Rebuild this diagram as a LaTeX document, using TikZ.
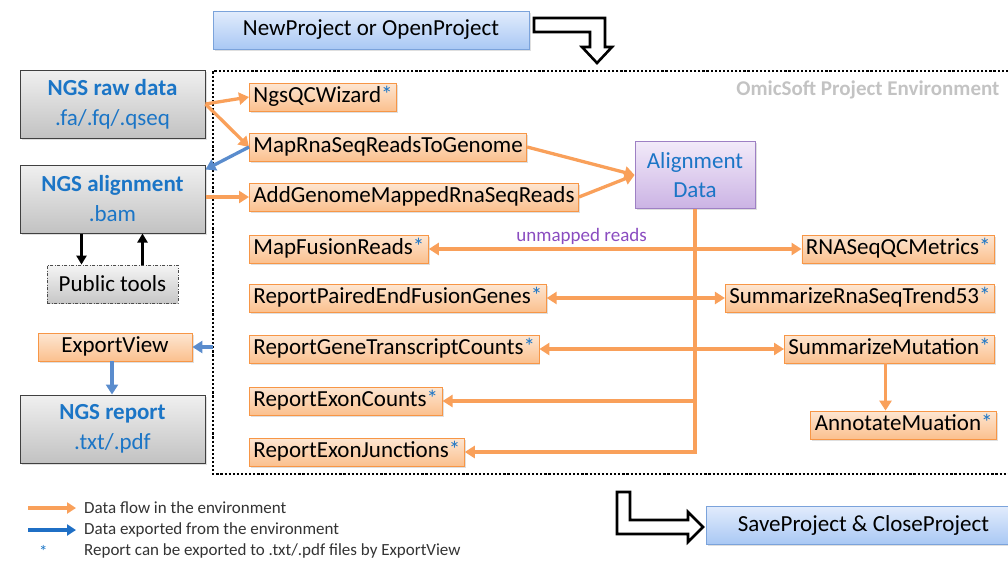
\documentclass[tikz,border=0pt]{standalone}
\usepackage{fontspec}
\setmainfont{Carlito}
\usepackage{xcolor}
\usetikzlibrary{arrows.meta, positioning, shadows}

\definecolor{flowor}{HTML}{F9A05A}
\definecolor{boxor}{HTML}{F79646}
\definecolor{orTop}{HTML}{FDE6D2}
\definecolor{orBot}{HTML}{FBC08E}
\definecolor{expblue}{HTML}{5A8CCD}
\definecolor{legblue}{HTML}{1F6FC5}
\definecolor{ngsblue}{HTML}{1B75C6}
\definecolor{envgray}{HTML}{C3C3C3}
\definecolor{unmapped}{HTML}{8A4CC0}
\definecolor{projTop}{HTML}{E2ECFC}
\definecolor{projBot}{HTML}{A9C8F4}
\definecolor{projLine}{HTML}{7BA3DB}
\definecolor{alnTop}{HTML}{F2EAF9}
\definecolor{alnBot}{HTML}{CBB3E4}
\definecolor{alnLine}{HTML}{9E80C4}

% blue star for reports that ExportView can write out
\newcommand{\rpt}{\textcolor{ngsblue}{*}}

\begin{document}
\begin{tikzpicture}[
  x=1pt, y=-1pt,
  font=\fontsize{23}{29}\selectfont,
  shade/.style={drop shadow={opacity=0.25, shadow xshift=1.5pt, shadow yshift=-1.5pt}},
  procbox/.style={shade, draw=boxor, line width=0.8pt, top color=orTop, bottom color=orBot,
    inner xsep=4pt, inner ysep=4pt, text height=15pt, text depth=5pt},
  databox/.style={shade, draw=black!75, line width=1pt, top color=black!6, bottom color=black!24,
    minimum width=185pt, minimum height=68pt, align=center, text=ngsblue},
  toolbox/.style={draw=black!70, line width=0.8pt, dash pattern=on 3pt off 1.5pt on 1pt off 1.5pt,
    top color=black!4, bottom color=black!22, minimum width=131pt, minimum height=38pt},
  projbox/.style={shade, draw=projLine, line width=0.8pt, top color=projTop, bottom color=projBot,
    minimum height=38pt},
  aligndata/.style={shade, draw=alnLine, line width=0.8pt, top color=alnTop, bottom color=alnBot,
    minimum width=120pt, minimum height=67pt, align=center, text=ngsblue},
  flow/.style={draw=flowor, line width=3.3pt, -{Triangle[length=10pt,width=12pt]}},
  flow2/.style={flow, {Triangle[length=10pt,width=12pt]}-{Triangle[length=10pt,width=12pt]}},
  export/.style={draw=expblue, line width=3.3pt, -{Triangle[length=10pt,width=12pt]}},
  updown/.style={draw=black, line width=2.7pt, -{Triangle[length=9pt,width=10pt]}},
  hollow/.style={draw=black, line width=2.6pt, fill=white, line join=miter},
  legend/.style={font=\fontsize{17}{19}\selectfont, text=black!80, anchor=west, inner sep=0pt}
]
\useasboundingbox (0,0) rectangle (1008,563);

% project environment frame (open on the right)
\draw[line width=2.6pt, dash pattern=on 2.2pt off 1.9pt] (1012,71) -- (213,71) -- (213,474) -- (1012,474);
\node[anchor=east, text=envgray, font=\fontsize{21}{24}\selectfont\bfseries] (envname) at (1003,90) {OmicSoft Project Environment};

% open / save
\node[projbox, minimum width=316pt] (newp) at (371,30) {NewProject or OpenProject};
\node[projbox, minimum width=314pt, anchor=west] (savep) at (706,525) {SaveProject \& CloseProject};
\draw[hollow] (534,18) -- (605,18) -- (605,47) -- (612,47) -- (597,63) -- (582,47) -- (590,47) -- (590,32) -- (534,32) -- cycle;
\draw[hollow] (617,492) -- (630,492) -- (630,520) -- (688,520) -- (688,512) -- (703,527) -- (688,542) -- (688,534) -- (617,534) -- cycle;

% data outside the environment
\node[databox] (raw) at (112.5,104) {\textbf{NGS raw data}\\[1pt].fa/.fq/.qseq};
\node[databox] (aln) at (112.5,199) {\textbf{NGS alignment}\\[1pt].bam};
\node[toolbox] (tools) at (112.5,284) {Public tools};
\node[procbox, minimum width=154pt] (exv) at (115,347) {ExportView};
\node[databox] (rep) at (112.5,429) {\textbf{NGS report}\\[1pt].txt/.pdf};

% left column of tools
\node[procbox, anchor=west] (qcw) at (249,97) {NgsQCWizard\rpt};
\node[procbox, anchor=west] (maprna) at (249,147) {MapRnaSeqReadsToGenome};
\node[procbox, anchor=west] (addgen) at (249,197) {AddGenomeMappedRnaSeqReads};
\node[procbox, anchor=west] (fusion) at (249,249) {MapFusionReads\rpt};
\node[procbox, anchor=west] (paired) at (249,298) {ReportPairedEndFusionGenes\rpt};
\node[procbox, anchor=west] (counts) at (249,349) {ReportGeneTranscriptCounts\rpt};
\node[procbox, anchor=west] (exc) at (249,401) {ReportExonCounts\rpt};
\node[procbox, anchor=west] (exj) at (249,452) {ReportExonJunctions\rpt};

\node[aligndata] (adata) at (695,175) {Alignment\\Data};

% right column
\node[procbox, anchor=east] (qcm) at (995,249) {RNASeqQCMetrics\rpt};
\node[procbox, anchor=east] (trend) at (995,298) {SummarizeRnaSeqTrend53\rpt};
\node[procbox, anchor=east] (mut) at (995,349) {SummarizeMutation\rpt};
\node[procbox, anchor=east] (annot) at (997,425) {AnnotateMuation\rpt};

% flows
\draw[flow] (raw.east) -- (qcw.west);
\draw[flow] (raw.east) -- (maprna.west);
\draw[export] (maprna.west) -- ([yshift=-5pt]aln.north east);
\draw[flow] (aln.east |- addgen.west) -- (addgen.west);
\draw[flow] (maprna.east) -- (adata.west);
\draw[flow] (addgen.east) -- (adata.west);
\draw[flow] (adata.south) |- (exj.east);
\draw[flow] (adata.south |- exc.east) -- (exc.east);
\draw[flow2] (fusion.east) -- node[pos=0.41, above=-1pt, text=unmapped, font=\fontsize{19}{21}\selectfont] (unm) {unmapped reads} (qcm.west);
\draw[flow2] (paired.east) -- (trend.west);
\draw[flow2] (counts.east) -- (mut.west);
\draw[flow] ([xshift=-4pt]mut.south) -- ([xshift=-4pt]mut.south |- annot.north);

% around the alignment file
\draw[updown] ([xshift=-31pt]aln.south) -- ([xshift=-31pt]aln.south |- tools.north);
\draw[updown] ([xshift=30pt]tools.north) -- ([xshift=30pt]tools.north |- aln.south);

% export
\coordinate (envleft) at (213,347);
\draw[export] (envleft) -- (exv.east);
\draw[export] ([xshift=-3pt]exv.south) -- ([xshift=-3pt]exv.south |- rep.north);

% legend
\draw[draw=flowor, line width=4pt, -{Triangle[length=9pt,width=11pt]}] (28,508) -- (76,508);
\draw[draw=legblue, line width=4pt, -{Triangle[length=9pt,width=11pt]}] (28,530) -- (76,530);
\node[legend] (lg1) at (84,508) {Data flow in the environment};
\node[legend] (lg2) at (84,530) {Data exported from the environment};
\node[legend, text=ngsblue] (lg3) at (39,551) {*};
\node[legend] (lg4) at (84,551) {Report can be exported to .txt/.pdf files by ExportView};
\end{tikzpicture}
\end{document}
